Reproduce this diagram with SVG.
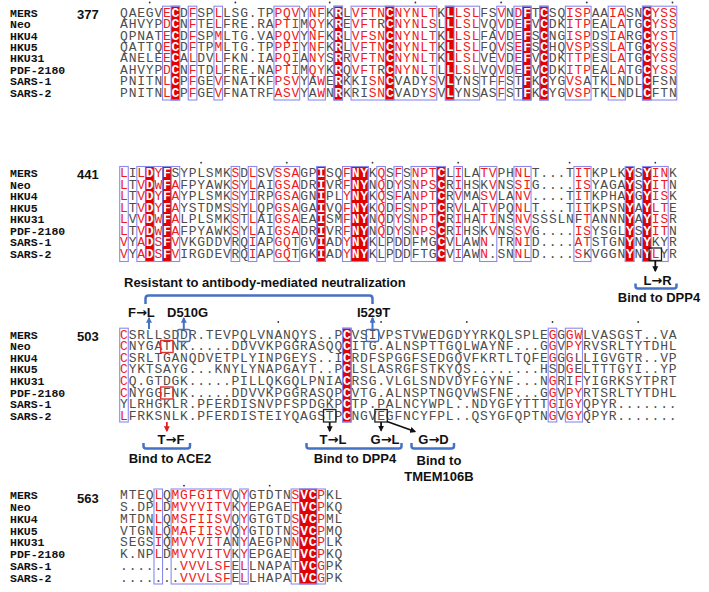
<svg xmlns="http://www.w3.org/2000/svg" width="709" height="592" viewBox="0 0 709 592">
<style>
.s{font-family:"Liberation Mono","DejaVu Sans Mono",monospace;font-size:13px;letter-spacing:0.77px;fill:#4d4d4d}
.r{fill:#f01a1a}
.w{fill:#fff;font-weight:bold}
.n{font-family:"Liberation Mono","DejaVu Sans Mono",monospace;font-size:11.5px;font-weight:bold;fill:#111}
.num{font-family:"Liberation Sans",Arial,sans-serif;font-size:13px;font-weight:bold;fill:#111}
.a{font-family:"Liberation Sans",Arial,sans-serif;font-size:13px;font-weight:bold;fill:#111}
.ar2{font-family:"DejaVu Sans",sans-serif;font-weight:bold}
.m{text-anchor:middle}
.bx{fill:none;stroke:#8a8aee;stroke-width:1.1}
.fl{fill:#e30000;stroke:#6a6ad0;stroke-width:1}
.br{fill:none;stroke:#4472c4;stroke-width:2.5}
.dot{fill:#333}
.ab{stroke:#111;stroke-width:1.8;fill:none}
.au{stroke:#4472c4;stroke-width:2;fill:none}
.ar{stroke:#e02020;stroke-width:1.8;fill:none}
</style>
<defs>
<marker id="hb" viewBox="0 0 10 10" refX="8" refY="5" markerWidth="6" markerHeight="6" markerUnits="userSpaceOnUse" orient="auto"><path d="M0,0 L10,5 L0,10 z" fill="#111"/></marker>
<marker id="hu" viewBox="0 0 10 10" refX="8" refY="5" markerWidth="6" markerHeight="6" markerUnits="userSpaceOnUse" orient="auto"><path d="M0,0 L10,5 L0,10 z" fill="#4472c4"/></marker>
<marker id="hr" viewBox="0 0 10 10" refX="8" refY="5" markerWidth="6" markerHeight="6" markerUnits="userSpaceOnUse" orient="auto"><path d="M0,0 L10,5 L0,10 z" fill="#e02020"/></marker>
</defs>

<g id="block-377">
<g id="b1-marks">
<rect class="fl" x="171.12" y="6.2" width="8.57" height="93.8"/>
<rect class="fl" x="333.95" y="6.2" width="8.57" height="93.8"/>
<rect class="fl" x="385.37" y="6.2" width="8.57" height="93.8"/>
<rect class="fl" x="445.36" y="6.2" width="8.57" height="93.8"/>
<rect class="fl" x="522.49" y="6.2" width="8.57" height="93.8"/>
<rect class="fl" x="539.63" y="6.2" width="8.57" height="93.8"/>
<rect class="fl" x="642.47" y="6.2" width="8.57" height="93.8"/>
<rect class="bx" x="162.55" y="6.2" width="17.14" height="93.8"/>
<rect class="bx" x="188.26" y="6.2" width="8.57" height="93.8"/>
<rect class="bx" x="213.97" y="6.2" width="8.57" height="93.8"/>
<rect class="bx" x="273.96" y="6.2" width="25.71" height="93.8"/>
<rect class="bx" x="308.24" y="6.2" width="17.14" height="93.8"/>
<rect class="bx" x="333.95" y="6.2" width="8.57" height="93.8"/>
<rect class="bx" x="351.09" y="6.2" width="85.7" height="93.8"/>
<rect class="bx" x="445.36" y="6.2" width="34.28" height="93.8"/>
<rect class="bx" x="496.78" y="6.2" width="8.57" height="93.8"/>
<rect class="bx" x="513.92" y="6.2" width="17.14" height="93.8"/>
<rect class="bx" x="539.63" y="6.2" width="8.57" height="93.8"/>
<rect class="bx" x="565.34" y="6.2" width="25.71" height="93.8"/>
<rect class="bx" x="608.19" y="6.2" width="17.14" height="93.8"/>
<rect class="bx" x="642.47" y="6.2" width="34.28" height="93.8"/>
<circle class="dot" cx="149.7" cy="2.5" r="0.9"/><circle class="dot" cx="235.4" cy="2.5" r="0.9"/><circle class="dot" cx="329.7" cy="2.5" r="0.9"/><circle class="dot" cx="415.4" cy="2.5" r="0.9"/><circle class="dot" cx="501.1" cy="2.5" r="0.9"/><circle class="dot" cx="586.8" cy="2.5" r="0.9"/><circle class="dot" cx="672.5" cy="2.5" r="0.9"/>
</g>
<text class="num" x="77" y="19">377</text>
<g id="b1-names">
<text class="n" x="10" y="16.7">MERS</text>
<text class="n" x="10" y="28.1">Neo</text>
<text class="n" x="10" y="39.5">HKU4</text>
<text class="n" x="10" y="50.9">HKU5</text>
<text class="n" x="10" y="62.3">HKU31</text>
<text class="n" x="10" y="73.7">PDF-2180</text>
<text class="n" x="10" y="85.1">SARS-1</text>
<text class="n" x="10" y="96.5">SARS-2</text>
</g>
<g id="b1-seq">
<text class="s" x="120.1" y="16.7">QAEGV<tspan class="r">E</tspan><tspan class="w">C</tspan>D<tspan class="r">F</tspan>SP<tspan class="r">L</tspan>LSG.TP<tspan class="r">PQV</tspan>Y<tspan class="r">NF</tspan>K<tspan class="w">R</tspan>L<tspan class="r">VFTN</tspan><tspan class="w">C</tspan><tspan class="r">NYNLT</tspan>K<tspan class="w">L</tspan><tspan class="r">LSL</tspan>FS<tspan class="r">V</tspan>N<tspan class="r">D</tspan><tspan class="w">F</tspan>T<tspan class="w">C</tspan>SQ<tspan class="r">ISP</tspan>AA<tspan class="r">IA</tspan>SN<tspan class="w">C</tspan><tspan class="r">YSS</tspan></text>
<text class="s" x="120.1" y="28.1">AHVYP<tspan class="r">D</tspan><tspan class="w">C</tspan>N<tspan class="r">F</tspan>TE<tspan class="r">L</tspan>FRE.RA<tspan class="r">PTI</tspan>M<tspan class="r">QY</tspan>K<tspan class="w">R</tspan>E<tspan class="r">VFT</tspan>R<tspan class="w">C</tspan><tspan class="r">NYNLS</tspan>L<tspan class="w">L</tspan><tspan class="r">LSL</tspan>VQ<tspan class="r">V</tspan>D<tspan class="r">E</tspan><tspan class="w">F</tspan>V<tspan class="w">C</tspan>DK<tspan class="r">ITP</tspan>EA<tspan class="r">LA</tspan>TG<tspan class="w">C</tspan><tspan class="r">YSS</tspan></text>
<text class="s" x="120.1" y="39.5">QPNAT<tspan class="r">E</tspan><tspan class="w">C</tspan>D<tspan class="r">F</tspan>SP<tspan class="r">M</tspan>LTG.VA<tspan class="r">PQV</tspan>Y<tspan class="r">NF</tspan>K<tspan class="w">R</tspan>L<tspan class="r">VFSN</tspan><tspan class="w">C</tspan><tspan class="r">NYNLT</tspan>K<tspan class="w">L</tspan><tspan class="r">LSL</tspan>FA<tspan class="r">V</tspan>D<tspan class="r">E</tspan><tspan class="w">F</tspan>S<tspan class="w">C</tspan>NG<tspan class="r">ISP</tspan>DS<tspan class="r">IA</tspan>RG<tspan class="w">C</tspan><tspan class="r">YST</tspan></text>
<text class="s" x="120.1" y="50.9">QATTQ<tspan class="r">E</tspan><tspan class="w">C</tspan>D<tspan class="r">F</tspan>TP<tspan class="r">M</tspan>LTG.TP<tspan class="r">PPI</tspan>Y<tspan class="r">NF</tspan>K<tspan class="w">R</tspan>L<tspan class="r">VFTN</tspan><tspan class="w">C</tspan><tspan class="r">NYNLT</tspan>K<tspan class="w">L</tspan><tspan class="r">LSL</tspan>FQ<tspan class="r">V</tspan>S<tspan class="r">E</tspan><tspan class="w">F</tspan>S<tspan class="w">C</tspan>HQ<tspan class="r">VSP</tspan>SS<tspan class="r">LA</tspan>TG<tspan class="w">C</tspan><tspan class="r">YSS</tspan></text>
<text class="s" x="120.1" y="62.3">ANELE<tspan class="r">E</tspan><tspan class="w">C</tspan>A<tspan class="r">L</tspan>DV<tspan class="r">L</tspan>FKN.IA<tspan class="r">PQI</tspan>A<tspan class="r">NY</tspan>S<tspan class="w">R</tspan>R<tspan class="r">VFTN</tspan><tspan class="w">C</tspan><tspan class="r">NYNLT</tspan>K<tspan class="w">L</tspan><tspan class="r">LSL</tspan>VE<tspan class="r">V</tspan>D<tspan class="r">E</tspan><tspan class="w">F</tspan>V<tspan class="w">C</tspan>DK<tspan class="r">TTP</tspan>ES<tspan class="r">LA</tspan>TG<tspan class="w">C</tspan><tspan class="r">YSS</tspan></text>
<text class="s" x="120.1" y="73.7">AHVYP<tspan class="r">D</tspan><tspan class="w">C</tspan>N<tspan class="r">F</tspan>TD<tspan class="r">L</tspan>FRE.NA<tspan class="r">PTI</tspan>M<tspan class="r">QY</tspan>K<tspan class="w">R</tspan>Q<tspan class="r">VFT</tspan>R<tspan class="w">C</tspan><tspan class="r">NYNLT</tspan>L<tspan class="w">L</tspan><tspan class="r">LSL</tspan>VQ<tspan class="r">V</tspan>D<tspan class="r">E</tspan><tspan class="w">F</tspan>V<tspan class="w">C</tspan>DK<tspan class="r">ITP</tspan>EA<tspan class="r">LA</tspan>TG<tspan class="w">C</tspan><tspan class="r">YSS</tspan></text>
<text class="s" x="120.1" y="85.1">PNITN<tspan class="r">L</tspan><tspan class="w">C</tspan>P<tspan class="r">F</tspan>GE<tspan class="r">V</tspan>FNATKF<tspan class="r">PSV</tspan>YA<tspan class="r">W</tspan>E<tspan class="w">R</tspan>KKI<tspan class="r">SN</tspan><tspan class="w">C</tspan>VADY<tspan class="r">S</tspan>V<tspan class="w">L</tspan>YNSTF<tspan class="r">F</tspan>ST<tspan class="w">F</tspan>K<tspan class="w">C</tspan>YG<tspan class="r">VS</tspan>ATK<tspan class="r">L</tspan>NDL<tspan class="w">C</tspan>FSN</text>
<text class="s" x="120.1" y="96.5">PNITN<tspan class="r">L</tspan><tspan class="w">C</tspan>P<tspan class="r">F</tspan>GE<tspan class="r">V</tspan>FNATRF<tspan class="r">ASV</tspan>YA<tspan class="r">W</tspan>N<tspan class="w">R</tspan>KRI<tspan class="r">SN</tspan><tspan class="w">C</tspan>VADY<tspan class="r">S</tspan>V<tspan class="w">L</tspan>YNSAS<tspan class="r">F</tspan>ST<tspan class="w">F</tspan>K<tspan class="w">C</tspan>YG<tspan class="r">VSP</tspan>TK<tspan class="r">L</tspan>NDL<tspan class="w">C</tspan>FTN</text>
</g>
</g>

<g id="block-441">
<g id="b2-marks">
<rect class="fl" x="145.41" y="166.5" width="8.57" height="95"/>
<rect class="fl" x="162.55" y="166.5" width="8.57" height="95"/>
<rect class="fl" x="316.81" y="166.5" width="8.57" height="95"/>
<rect class="fl" x="351.09" y="166.5" width="17.14" height="95"/>
<rect class="fl" x="436.79" y="166.5" width="8.57" height="95"/>
<rect class="fl" x="625.33" y="166.5" width="8.57" height="95"/>
<rect class="fl" x="642.47" y="166.5" width="8.57" height="95"/>
<rect class="bx" x="119.7" y="166.5" width="8.57" height="95"/>
<rect class="bx" x="136.84" y="166.5" width="42.85" height="95"/>
<rect class="bx" x="231.11" y="166.5" width="8.57" height="95"/>
<rect class="bx" x="248.25" y="166.5" width="8.57" height="95"/>
<rect class="bx" x="273.96" y="166.5" width="25.71" height="95"/>
<rect class="bx" x="316.81" y="166.5" width="8.57" height="95"/>
<rect class="bx" x="342.52" y="166.5" width="25.71" height="95"/>
<rect class="bx" x="376.8" y="166.5" width="8.57" height="95"/>
<rect class="bx" x="393.94" y="166.5" width="8.57" height="95"/>
<rect class="bx" x="411.08" y="166.5" width="34.28" height="95"/>
<rect class="bx" x="453.93" y="166.5" width="8.57" height="95"/>
<rect class="bx" x="479.64" y="166.5" width="17.14" height="95"/>
<rect class="bx" x="513.92" y="166.5" width="17.14" height="95"/>
<rect class="bx" x="573.91" y="166.5" width="17.14" height="95"/>
<rect class="bx" x="625.33" y="166.5" width="8.57" height="95"/>
<rect class="bx" x="642.47" y="166.5" width="25.71" height="95"/>
<circle class="dot" cx="201.1" cy="162.7" r="0.9"/><circle class="dot" cx="286.8" cy="162.7" r="0.9"/><circle class="dot" cx="372.5" cy="162.7" r="0.9"/><circle class="dot" cx="458.2" cy="162.7" r="0.9"/><circle class="dot" cx="569.6" cy="162.7" r="0.9"/><circle class="dot" cx="655.3" cy="162.7" r="0.9"/>
</g>
<text class="num" x="77" y="179.3">441</text>
<g id="b2-names">
<text class="n" x="10" y="177">MERS</text>
<text class="n" x="10" y="188.57">Neo</text>
<text class="n" x="10" y="200.14">HKU4</text>
<text class="n" x="10" y="211.71">HKU5</text>
<text class="n" x="10" y="223.28">HKU31</text>
<text class="n" x="10" y="234.85">PDF-2180</text>
<text class="n" x="10" y="246.42">SARS-1</text>
<text class="n" x="10" y="257.99">SARS-2</text>
</g>
<g id="b2-seq">
<text class="s" x="120.1" y="177"><tspan class="r">L</tspan>I<tspan class="r">L</tspan><tspan class="w">D</tspan><tspan class="r">Y</tspan><tspan class="w">F</tspan>SYPLSMK<tspan class="r">S</tspan>D<tspan class="r">L</tspan>SV<tspan class="r">SSA</tspan>GP<tspan class="w">I</tspan>SQ<tspan class="r">F</tspan><tspan class="w">NY</tspan>K<tspan class="r">Q</tspan>S<tspan class="r">F</tspan>S<tspan class="r">NPT</tspan><tspan class="w">C</tspan>L<tspan class="r">I</tspan>LA<tspan class="r">TV</tspan>PH<tspan class="r">NL</tspan>T...T<tspan class="r">IT</tspan>KPLK<tspan class="w">Y</tspan>S<tspan class="w">Y</tspan><tspan class="r">IN</tspan>K</text>
<text class="s" x="120.1" y="188.57"><tspan class="r">L</tspan>T<tspan class="r">V</tspan><tspan class="w">D</tspan><tspan class="r">W</tspan><tspan class="w">F</tspan><tspan class="r">A</tspan>FPYAWK<tspan class="r">S</tspan>Y<tspan class="r">L</tspan>AI<tspan class="r">GSA</tspan>DR<tspan class="w">I</tspan>VR<tspan class="r">F</tspan><tspan class="w">NY</tspan>N<tspan class="r">Q</tspan>D<tspan class="r">Y</tspan>S<tspan class="r">NPS</tspan><tspan class="w">C</tspan>R<tspan class="r">I</tspan>HSK<tspan class="r">V</tspan>NS<tspan class="r">SI</tspan>G....<tspan class="r">IS</tspan>YAGA<tspan class="w">Y</tspan>S<tspan class="w">Y</tspan><tspan class="r">IT</tspan>N</text>
<text class="s" x="120.1" y="200.14"><tspan class="r">L</tspan>T<tspan class="r">V</tspan><tspan class="w">D</tspan><tspan class="r">Y</tspan><tspan class="w">F</tspan><tspan class="r">A</tspan>YPLSMK<tspan class="r">S</tspan>Y<tspan class="r">I</tspan>RP<tspan class="r">GSA</tspan>GN<tspan class="w">I</tspan>PL<tspan class="r">Y</tspan><tspan class="w">NY</tspan>K<tspan class="r">Q</tspan>S<tspan class="r">F</tspan>A<tspan class="r">NPT</tspan><tspan class="w">C</tspan>R<tspan class="r">V</tspan>MA<tspan class="r">SV</tspan>LA<tspan class="r">NV</tspan>....T<tspan class="r">IT</tspan>KPHA<tspan class="w">Y</tspan>G<tspan class="w">Y</tspan><tspan class="r">IS</tspan>K</text>
<text class="s" x="120.1" y="211.71"><tspan class="r">L</tspan>T<tspan class="r">V</tspan><tspan class="w">D</tspan><tspan class="r">Y</tspan><tspan class="w">F</tspan><tspan class="r">A</tspan>YSTDMS<tspan class="r">S</tspan>Y<tspan class="r">L</tspan>QP<tspan class="r">GSA</tspan>GA<tspan class="w">I</tspan>VQ<tspan class="r">F</tspan><tspan class="w">NY</tspan>K<tspan class="r">Q</tspan>D<tspan class="r">F</tspan>S<tspan class="r">NPT</tspan><tspan class="w">C</tspan>R<tspan class="r">V</tspan>LA<tspan class="r">TV</tspan>PQ<tspan class="r">NL</tspan>T...T<tspan class="r">IT</tspan>KPSN<tspan class="w">Y</tspan>A<tspan class="w">Y</tspan><tspan class="r">LT</tspan>E</text>
<text class="s" x="120.1" y="223.28"><tspan class="r">L</tspan>V<tspan class="r">V</tspan><tspan class="w">D</tspan><tspan class="r">W</tspan><tspan class="w">F</tspan><tspan class="r">A</tspan>LPLSMK<tspan class="r">S</tspan>T<tspan class="r">L</tspan>AI<tspan class="r">GSA</tspan>EA<tspan class="w">I</tspan>SM<tspan class="r">F</tspan><tspan class="w">NY</tspan>N<tspan class="r">Q</tspan>D<tspan class="r">Y</tspan>S<tspan class="r">NPT</tspan><tspan class="w">C</tspan>R<tspan class="r">I</tspan>HA<tspan class="r">TI</tspan>NS<tspan class="r">NV</tspan>SSSLNF<tspan class="r">T</tspan>ANNN<tspan class="w">Y</tspan>A<tspan class="w">Y</tspan><tspan class="r">IS</tspan>R</text>
<text class="s" x="120.1" y="234.85"><tspan class="r">L</tspan>T<tspan class="r">V</tspan><tspan class="w">D</tspan><tspan class="r">W</tspan><tspan class="w">F</tspan><tspan class="r">A</tspan>FPYAWK<tspan class="r">S</tspan>Y<tspan class="r">L</tspan>AI<tspan class="r">GSA</tspan>DR<tspan class="w">I</tspan>VR<tspan class="r">F</tspan><tspan class="w">NY</tspan>N<tspan class="r">Q</tspan>D<tspan class="r">Y</tspan>S<tspan class="r">NPS</tspan><tspan class="w">C</tspan>R<tspan class="r">I</tspan>HSK<tspan class="r">V</tspan>NS<tspan class="r">SV</tspan>G....<tspan class="r">IS</tspan>YSGL<tspan class="w">Y</tspan>S<tspan class="w">Y</tspan><tspan class="r">IT</tspan>N</text>
<text class="s" x="120.1" y="246.42"><tspan class="r">V</tspan>Y<tspan class="r">A</tspan><tspan class="w">D</tspan><tspan class="r">S</tspan><tspan class="w">F</tspan><tspan class="r">V</tspan>VKGDDVRQ<tspan class="r">I</tspan>AP<tspan class="r">GQ</tspan>TGV<tspan class="w">I</tspan>AD<tspan class="r">Y</tspan><tspan class="w">NY</tspan>KLPDDFMG<tspan class="w">C</tspan>V<tspan class="r">L</tspan>AW<tspan class="r">N</tspan>.TR<tspan class="r">NI</tspan>D....<tspan class="r">AT</tspan>STGN<tspan class="w">Y</tspan>N<tspan class="w">Y</tspan>KYR</text>
<text class="s" x="120.1" y="257.99"><tspan class="r">V</tspan>Y<tspan class="r">A</tspan><tspan class="w">D</tspan><tspan class="r">S</tspan><tspan class="w">F</tspan><tspan class="r">V</tspan>IRGDEVRQ<tspan class="r">I</tspan>AP<tspan class="r">GQ</tspan>TGK<tspan class="w">I</tspan>AD<tspan class="r">Y</tspan><tspan class="w">NY</tspan>KLPDDFTG<tspan class="w">C</tspan>V<tspan class="r">I</tspan>AW<tspan class="r">N</tspan>.SN<tspan class="r">NL</tspan>D....<tspan class="r">S</tspan>KVGGN<tspan class="w">Y</tspan>N<tspan class="w">Y</tspan><tspan class="r">L</tspan>YR</text>
</g>
</g>

<g id="block-503">
<g id="b3-marks">
<rect class="fl" x="342.52" y="328.2" width="8.57" height="93.8"/>
<rect class="bx" x="119.7" y="328.2" width="8.57" height="93.8"/>
<rect class="bx" x="342.52" y="328.2" width="8.57" height="93.8"/>
<rect class="bx" x="548.2" y="328.2" width="8.57" height="93.8"/>
<rect class="bx" x="565.34" y="328.2" width="17.14" height="93.8"/>
<circle class="dot" cx="278.3" cy="322" r="0.9"/><circle class="dot" cx="381.1" cy="322" r="0.9"/><circle class="dot" cx="466.8" cy="322" r="0.9"/><circle class="dot" cx="552.5" cy="322" r="0.9"/><circle class="dot" cx="638.2" cy="322" r="0.9"/>
</g>
<text class="num" x="77" y="341">503</text>
<g id="b3-names">
<text class="n" x="10" y="338.7">MERS</text>
<text class="n" x="10" y="350.27">Neo</text>
<text class="n" x="10" y="361.84">HKU4</text>
<text class="n" x="10" y="373.41">HKU5</text>
<text class="n" x="10" y="384.98">HKU31</text>
<text class="n" x="10" y="396.55">PDF-2180</text>
<text class="n" x="10" y="408.12">SARS-1</text>
<text class="n" x="10" y="419.69">SARS-2</text>
</g>
<g id="b3-seq">
<text class="s" x="120.1" y="338.7"><tspan class="r">C</tspan>SRLLSDDR.TEVPQLVNANQYS..P<tspan class="w">C</tspan>VSIVPSTVWEDGDYYRKQLSPLE<tspan class="r">G</tspan>G<tspan class="r">GW</tspan>LVASGST..VA</text>
<text class="s" x="120.1" y="350.27"><tspan class="r">C</tspan>NYGATNK.....DDVVKPGGRASQQ<tspan class="w">C</tspan>ITG.ALNSPTTGQLWAYNF...G<tspan class="r">G</tspan>V<tspan class="r">PY</tspan>RVSRLTYTDHL</text>
<text class="s" x="120.1" y="361.84"><tspan class="r">C</tspan>SRLTGANQDVETPLYINPGEYS..I<tspan class="w">C</tspan>RDFSPGGFSEDGQVFKRTLTQFE<tspan class="r">G</tspan>G<tspan class="r">G</tspan>LLIGVGTR..VP</text>
<text class="s" x="120.1" y="373.41"><tspan class="r">C</tspan>YKTSAYG...KNYLYNAPGAYT..P<tspan class="w">C</tspan>LSLASRGFSTKYQS........HSD<tspan class="r">G</tspan>ELTTTGYI..YP</text>
<text class="s" x="120.1" y="384.98"><tspan class="r">C</tspan>Q.GTDGK.....PILLQKGQLPNIA<tspan class="w">C</tspan>RSG.VLGLSNDVDYFGYNF...N<tspan class="r">G</tspan>RI<tspan class="r">F</tspan>YIGRKSYTPRT</text>
<text class="s" x="120.1" y="396.55"><tspan class="r">C</tspan>NYGGFNK.....DDVVKPGGRASQP<tspan class="w">C</tspan>VTG.ALNSPTNGQVWSFNF...G<tspan class="r">G</tspan>V<tspan class="r">PY</tspan>RTSRLTYTDHL</text>
<text class="s" x="120.1" y="408.12">YLRHGKLR.PFERDISNVPFSPDGKP<tspan class="w">C</tspan>TP.PALNCYWPL..NDYGFYTTT<tspan class="r">G</tspan>I<tspan class="r">GY</tspan>QPYR.......</text>
<text class="s" x="120.1" y="419.69"><tspan class="r">L</tspan>FRKSNLK.PFERDISTEIYQAGSTP<tspan class="w">C</tspan>NGVEGFNCYFPL..QSYGFQPTN<tspan class="r">G</tspan>V<tspan class="r">GY</tspan>QPYR.......</text>
</g>
</g>

<g id="block-563">
<g id="b4-marks">
<rect class="fl" x="299.67" y="489" width="17.14" height="95"/>
<rect class="bx" x="153.98" y="489" width="8.57" height="95"/>
<rect class="bx" x="171.12" y="489" width="59.99" height="95"/>
<rect class="bx" x="239.68" y="489" width="8.57" height="95"/>
<rect class="bx" x="291.1" y="489" width="34.28" height="95"/>
<circle class="dot" cx="184" cy="485.7" r="0.9"/><circle class="dot" cx="269.7" cy="485.7" r="0.9"/>
</g>
<text class="num" x="77" y="502.7">563</text>
<g id="b4-names">
<text class="n" x="10" y="499.4">MERS</text>
<text class="n" x="10" y="511.15">Neo</text>
<text class="n" x="10" y="522.9">HKU4</text>
<text class="n" x="10" y="534.65">HKU5</text>
<text class="n" x="10" y="546.4">HKU31</text>
<text class="n" x="10" y="558.15">PDF-2180</text>
<text class="n" x="10" y="569.9">SARS-1</text>
<text class="n" x="10" y="581.65">SARS-2</text>
</g>
<g id="b4-seq">
<text class="s" x="120.1" y="499.4">MTEQ<tspan class="r">L</tspan>Q<tspan class="r">MGFGITV</tspan>Q<tspan class="r">Y</tspan>GTDTN<tspan class="r">S</tspan><tspan class="w">VC</tspan><tspan class="r">P</tspan>KL</text>
<text class="s" x="120.1" y="511.15">S.DP<tspan class="r">L</tspan>D<tspan class="r">MVYVITV</tspan>K<tspan class="r">Y</tspan>EPGAE<tspan class="r">T</tspan><tspan class="w">VC</tspan><tspan class="r">P</tspan>KQ</text>
<text class="s" x="120.1" y="522.9">MTDN<tspan class="r">L</tspan>Q<tspan class="r">MSFIISV</tspan>Q<tspan class="r">Y</tspan>GTGTD<tspan class="r">S</tspan><tspan class="w">VC</tspan><tspan class="r">P</tspan>ML</text>
<text class="s" x="120.1" y="534.65">VTGN<tspan class="r">L</tspan>Q<tspan class="r">MAFIISV</tspan>Q<tspan class="r">Y</tspan>GTDTN<tspan class="r">S</tspan><tspan class="w">VC</tspan><tspan class="r">P</tspan>MQ</text>
<text class="s" x="120.1" y="546.4">SEGS<tspan class="r">I</tspan>Q<tspan class="r">MVYVIT</tspan>AN<tspan class="r">Y</tspan>AEGPN<tspan class="r">N</tspan><tspan class="w">VC</tspan><tspan class="r">P</tspan>LK</text>
<text class="s" x="120.1" y="558.15">K.NP<tspan class="r">L</tspan>D<tspan class="r">MVYVITV</tspan>K<tspan class="r">Y</tspan>EPGAE<tspan class="r">T</tspan><tspan class="w">VC</tspan><tspan class="r">P</tspan>KQ</text>
<text class="s" x="120.1" y="569.9">.......<tspan class="r">VVVLSF</tspan>E<tspan class="r">L</tspan>LNAPA<tspan class="r">T</tspan><tspan class="w">VC</tspan><tspan class="r">G</tspan>PK</text>
<text class="s" x="120.1" y="581.65">.......<tspan class="r">VVVLSF</tspan>E<tspan class="r">L</tspan>LHAPA<tspan class="r">T</tspan><tspan class="w">VC</tspan><tspan class="r">G</tspan>PK</text>
</g>
</g>

<g id="annotations">
<g id="ann-resistant">
<text class="a" x="124" y="287">Resistant to antibody-mediated neutralization</text>
<path class="br" d="M145.5 304 V298.5 Q145.5 295.5 148.5 295.5 H369.5 Q372.5 295.5 372.5 298.5 V304"/>
<text class="a" x="128" y="316.7">F<tspan class="ar2">→</tspan>L</text>
<text class="a" x="167" y="316.7">D510G</text>
<text class="a" x="357" y="316.7">I529T</text>
<rect x="177.6" y="329.5" width="12.4" height="12" rx="1.5" fill="none" stroke="#4472c4" stroke-width="1.4"/>
<rect x="366.3" y="329.5" width="12.4" height="12" rx="1.5" fill="none" stroke="#4472c4" stroke-width="1.4"/>
</g>
<g id="ann-b2">
<rect x="649.1" y="248" width="12.4" height="12.5" fill="none" stroke="#222" stroke-width="1.3"/>
<text class="a m" x="657.5" y="285">L<tspan class="ar2">→</tspan>R</text>
<path class="br" d="M635.5 283.5 V286 Q635.5 288.5 638 288.5 H674 Q676.5 288.5 676.5 286 V283.5"/>
<text class="a m" x="659" y="301.5">Bind to DPP4</text>
</g>
<g id="ann-ace2">
<rect x="160.65" y="340.5" width="12.4" height="12" fill="none" stroke="#e03030" stroke-width="1.4"/>
<rect x="160.65" y="387" width="12.4" height="12" fill="none" stroke="#e03030" stroke-width="1.4"/>
<text class="a m" x="171" y="444">T<tspan class="ar2">→</tspan>F</text>
<path class="br" d="M143.5 443 V446 Q143.5 448.5 146 448.5 H187.5 Q190 448.5 190 446 V443"/>
<text class="a m" x="170" y="463">Bind to ACE2</text>
</g>
<g id="ann-dpp4">
<rect x="323.5" y="409.5" width="12.4" height="12.5" fill="none" stroke="#222" stroke-width="1.3"/>
<rect x="374.9" y="409.5" width="12.4" height="12.5" fill="none" stroke="#222" stroke-width="1.3"/>
<text class="a m" x="333" y="444">T<tspan class="ar2">→</tspan>L</text>
<text class="a m" x="385" y="444">G<tspan class="ar2">→</tspan>L</text>
<path class="br" d="M306.5 443 V446 Q306.5 448.5 309 448.5 H399 Q401.5 448.5 401.5 446 V443"/>
<text class="a m" x="355" y="463">Bind to DPP4</text>
</g>
<g id="ann-tmem">
<text class="a m" x="433.5" y="444">G<tspan class="ar2">→</tspan>D</text>
<path class="br" d="M411.5 443 V446 Q411.5 448.5 414 448.5 H451.5 Q454 448.5 454 446 V443"/>
<text class="a m" x="439" y="465">Bind to</text>
<text class="a m" x="439" y="481">TMEM106B</text>
</g>
</g>

<g id="connectors">
<line class="au" x1="149" y1="329" x2="149" y2="318" marker-end="url(#hu)"/>
<line class="au" x1="183.8" y1="329" x2="183.8" y2="318" marker-end="url(#hu)"/>
<line class="au" x1="372.5" y1="329" x2="372.5" y2="318" marker-end="url(#hu)"/>
<line class="ab" x1="655.3" y1="260.5" x2="655.3" y2="271" marker-end="url(#hb)"/>
<line class="ar" x1="166.85" y1="422" x2="166.85" y2="431" marker-end="url(#hr)"/>
<line class="ab" x1="329.7" y1="422" x2="329.7" y2="431" marker-end="url(#hb)"/>
<line class="ab" x1="381.1" y1="422" x2="381.1" y2="430.5" marker-end="url(#hb)"/>
<line class="ab" x1="387" y1="421.5" x2="415" y2="431.5" marker-end="url(#hb)"/>
</g>
</svg>
